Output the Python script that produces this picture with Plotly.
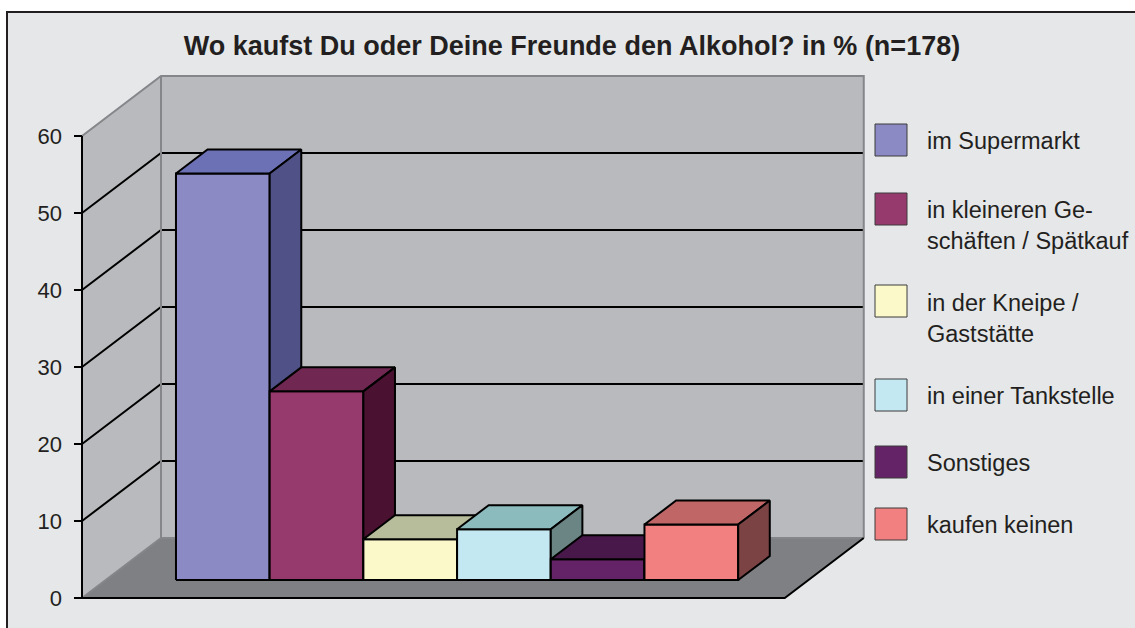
import plotly.graph_objects as go

# ---------------- data ----------------
CATEGORIES = [
    "im Supermarkt",
    "in kleineren Ge-\nschäften / Spätkauf",
    "in der Kneipe /\nGaststätte",
    "in einer Tankstelle",
    "Sonstiges",
    "kaufen keinen",
]
VALUES = [52.8, 24.5, 5.3, 6.6, 2.7, 7.2]
FRONT_COLORS = ["#8B8AC4", "#963A6D", "#FBF9C9", "#C4E8F1", "#642267", "#F38081"]
TOP_COLORS = ["#6C71B6", "#702853", "#B7BD9B", "#8CBBBE", "#48184A", "#C06667"]
SIDE_COLORS = ["#505287", "#4A1131", "#8F9170", "#6A8584", "#3A1240", "#7B4344"]
Y_TICKS = [0, 10, 20, 30, 40, 50, 60]
TITLE = "Wo kaufst Du oder Deine Freunde den Alkohol? in % (n=178)"

# ---------------- geometry / style constants (window pixel coords) ----------------
FIG_W, FIG_H = 1135, 628
ORIGIN_PX = (82, 598)          # pixel of (x=0, y=0, depth=0)
PXX = 93.7                     # pixels per category unit
PXY = 7.7                      # pixels per value unit
DX = 79 / PXX                  # full depth offset (x units)
DY = 60 / PXY                  # full depth offset (value units)
GAP = 0.75
N = len(VALUES)
WIDTH = N + 2 * GAP
YMAX = Y_TICKS[-1]
D0, D1 = 0.3, 0.7              # bar depth extent
PLOT_L, PLOT_R, PLOT_T, PLOT_B = 74, 874, 64, 602
PW, PH = PLOT_R - PLOT_L, PLOT_B - PLOT_T

REGULAR = "Liberation Sans, Arial, sans-serif"
TEXT_COLOR = "#231F20"
WALL = "#B9BABD"
FLOOR = "#7F8084"
EDGE = "#85868A"


def P(x, y, d):
    return x + d * DX, y + d * DY


def poly(points, fill=None, color="black", width=2, close=True):
    pts = list(points) + ([points[0]] if close else [])
    return go.Scatter(
        x=[p[0] for p in pts], y=[p[1] for p in pts], mode="lines",
        fill="toself" if fill else "none", fillcolor=fill,
        line=dict(color=color, width=width), hoverinfo="skip", showlegend=False,
    )


def pxx(px):
    return (px - PLOT_L) / PW


def pxy(py):
    return (PLOT_B - py) / PH


fig = go.Figure()

# walls and floor
fig.add_trace(poly([P(0, 0, 0), P(0, YMAX, 0), P(0, YMAX, 1), P(0, 0, 1)], fill=WALL, color=WALL, width=0))
fig.add_trace(poly([P(0, 0, 1), P(WIDTH, 0, 1), P(WIDTH, YMAX, 1), P(0, YMAX, 1)], fill=WALL, color=WALL, width=0))
fig.add_trace(poly([P(0, 0, 0), P(WIDTH, 0, 0), P(WIDTH, 0, 1), P(0, 0, 1)], fill=FLOOR, color=FLOOR, width=0))

# gridlines
for v in Y_TICKS[1:-1]:
    fig.add_trace(poly([P(0, v, 0), P(0, v, 1), P(WIDTH, v, 1)], color="black", width=2, close=False))

# wall edges
fig.add_trace(poly([P(0, YMAX, 0), P(0, YMAX, 1), P(WIDTH, YMAX, 1), P(WIDTH, 0, 1)], color=EDGE, width=2, close=False))
fig.add_trace(poly([P(0, YMAX, 1), P(0, 0, 1), P(WIDTH, 0, 1)], color=EDGE, width=2, close=False))
fig.add_trace(poly([P(0, 0, 0), P(0, 0, 1)], color=EDGE, width=2, close=False))
fig.add_trace(poly([P(0, 0, 0), P(WIDTH, 0, 0), P(WIDTH, 0, 1)], color="black", width=2, close=False))
# value axis line
fig.add_trace(poly([P(0, 0, 0), P(0, YMAX, 0)], color="black", width=2, close=False))

# bars
for i, v in enumerate(VALUES):
    L, R = GAP + i, GAP + i + 1
    fig.add_trace(poly([P(L, 0, D0), P(R, 0, D0), P(R, v, D0), P(L, v, D0)], fill=FRONT_COLORS[i]))
    fig.add_trace(poly([P(L, v, D0), P(R, v, D0), P(R, v, D1), P(L, v, D1)], fill=TOP_COLORS[i]))
    fig.add_trace(poly([P(R, 0, D0), P(R, v, D0), P(R, v, D1), P(R, 0, D1)], fill=SIDE_COLORS[i]))

shapes = [
    dict(type="rect", xref="paper", yref="paper", x0=pxx(7), x1=pxx(FIG_W + 20),
         y0=pxy(FIG_H + 20), y1=pxy(12), fillcolor="#E6E7E9",
         line=dict(color=TEXT_COLOR, width=2), layer="below"),
]
annotations = []

# legend
SW_X0, SW_SIZE, TXT_X = 875, 32, 925
SW_TOPS = [124, 193, 285, 379, 446, 508]
for i, lab in enumerate(CATEGORIES):
    top = SW_TOPS[i]
    shapes.append(dict(type="rect", xref="paper", yref="paper",
                       x0=pxx(SW_X0), x1=pxx(SW_X0 + SW_SIZE), y0=pxy(top + SW_SIZE), y1=pxy(top),
                       fillcolor=FRONT_COLORS[i], line=dict(color="#3A3A3A", width=1), layer="above"))
    nlines = lab.count("\n") + 1
    center = top + 17 + (nlines - 1) * 16
    annotations.append(dict(xref="paper", yref="paper", x=pxx(TXT_X), y=pxy(center),
                            xanchor="left", yanchor="middle", showarrow=False, align="left",
                            text=lab.replace("\n", "<br>"),
                            font=dict(family=REGULAR, size=23.5, color=TEXT_COLOR)))

fig.update_layout(
    width=FIG_W, height=FIG_H, template="none",
    margin=dict(l=PLOT_L, r=FIG_W - PLOT_R, t=PLOT_T, b=FIG_H - PLOT_B, autoexpand=False),
    paper_bgcolor="white", plot_bgcolor="rgba(0,0,0,0)", showlegend=False,
    title=dict(text=f"<b>{TITLE}</b>", xref="container", yref="container",
               x=572 / FIG_W, y=1 - 46 / FIG_H, xanchor="center", yanchor="middle",
               font=dict(family=REGULAR, size=27, color=TEXT_COLOR)),
    xaxis=dict(range=[(PLOT_L - ORIGIN_PX[0]) / PXX, (PLOT_R - ORIGIN_PX[0]) / PXX],
               visible=False, fixedrange=True, automargin=False),
    yaxis=dict(range=[(ORIGIN_PX[1] - PLOT_B) / PXY, (ORIGIN_PX[1] - PLOT_T) / PXY],
               tickvals=Y_TICKS, ticks="inside", ticklen=8, tickwidth=2, tickcolor="black",
               showgrid=False, zeroline=False, showline=False, automargin=False,
               ticklabelstandoff=11, fixedrange=True,
               tickfont=dict(family=REGULAR, size=22, color=TEXT_COLOR)),
    shapes=shapes, annotations=annotations,
)

fig.write_html(
    "out.html",
    config={"displayModeBar": False, "staticPlot": True},
    post_script="document.body.style.margin='0';document.documentElement.style.overflow='hidden';",
)
